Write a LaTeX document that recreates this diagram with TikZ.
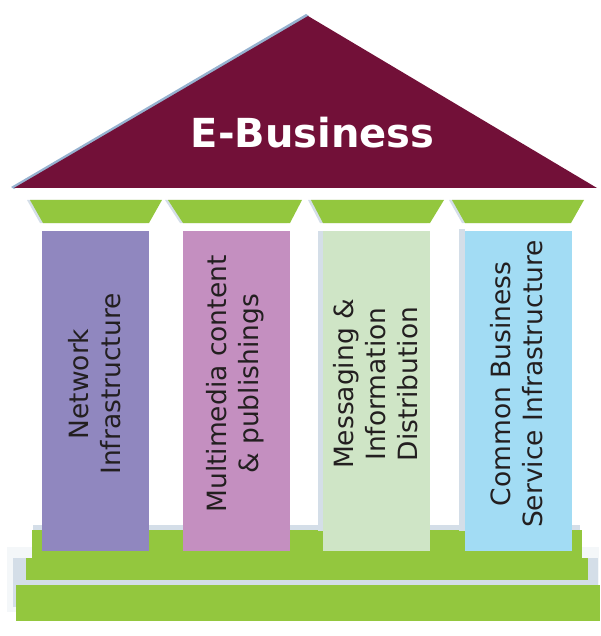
\documentclass[tikz,border=0pt]{standalone}
\usepackage{fontspec}
\setmainfont{DejaVu Sans}
\setsansfont{DejaVu Sans}
\definecolor{roofc}{RGB}{114,16,56}
\definecolor{greenc}{RGB}{147,199,62}
\definecolor{pilA}{RGB}{144,135,191}
\definecolor{pilB}{RGB}{196,143,192}
\definecolor{pilC}{RGB}{207,229,198}
\definecolor{pilD}{RGB}{162,220,244}
\definecolor{txtc}{RGB}{35,31,32}
\definecolor{shadc}{RGB}{212,222,232}
\definecolor{roofshad}{RGB}{150,178,208}
\tikzset{
  pillartext/.style={rotate=90, align=center, text=txtc, inner sep=0pt,
    font=\fontsize{26.5}{32}\selectfont},
  titletext/.style={text=white, inner sep=0pt, font=\fontsize{40}{44}\selectfont\bfseries},
  capital/.style={fill=greenc, draw=none},
  capshadow/.style={fill=shadc, draw=none},
  stepc/.style={fill=greenc, draw=none}
}
\begin{document}
\begin{tikzpicture}[x=1pt,y=-1pt]
\useasboundingbox (0,0) rectangle (600,636);
% roof
\fill[roofshad] (11,187) -- (306,14) -- (309,16) -- (14,189) -- cycle;
\fill[roofc] (14,188) -- (308,16) -- (597,188) -- cycle;
\node[titletext] (title) at (312.5,132.5) {E-Business};
% capitals (shadows)
\fill[capshadow] (27,200) -- (159,200) -- (146,223) -- (40,223) -- cycle;
\fill[capshadow] (165,200) -- (299,200) -- (287,223) -- (180,223) -- cycle;
\fill[capshadow] (308,200) -- (441,200) -- (427,223) -- (320,223) -- cycle;
\fill[capshadow] (449,200) -- (581,200) -- (568,223) -- (462,223) -- cycle;
% capitals
\fill[capital] (30,200) -- (162,200) -- (149,223) -- (43,223) -- cycle;
\fill[capital] (168,200) -- (302,200) -- (290,223) -- (183,223) -- cycle;
\fill[capital] (311,200) -- (444,200) -- (430,223) -- (323,223) -- cycle;
\fill[capital] (452,200) -- (584,200) -- (571,223) -- (465,223) -- cycle;
% base shadows
\fill[shadc!25] (7,547) rectangle (599,612);
\fill[shadc] (13,558) rectangle (598,607);
\fill[shadc] (33,525) rectangle (580,531);
% steps
\fill[stepc] (32,530) rectangle (582,558);
\fill[stepc] (26,558) rectangle (588,580);
\fill[stepc] (16,585) rectangle (600,621);
% pillar shadows
\fill[shadc] (318,231) rectangle (323,531);
\fill[shadc] (459,229) rectangle (465,531);
% pillars
\fill[pilA] (42,231) rectangle (149,551);
\fill[pilB] (183,231) rectangle (290,551);
\fill[pilC] (323,231) rectangle (430,551);
\fill[pilD] (465,231) rectangle (572,551);
% pillar texts
\node[pillartext] (t1) at (94.5,384) {Network\\Infrastructure};
\node[pillartext] (t2) at (235.5,384) {Multimedia content\\\& publishings};
\node[pillartext] (t3) at (375.5,384) {Messaging \&\\Information\\Distribution};
\node[pillartext] (t4) at (517,384) {Common Business\\Service Infrastructure};
\end{tikzpicture}
\end{document}
